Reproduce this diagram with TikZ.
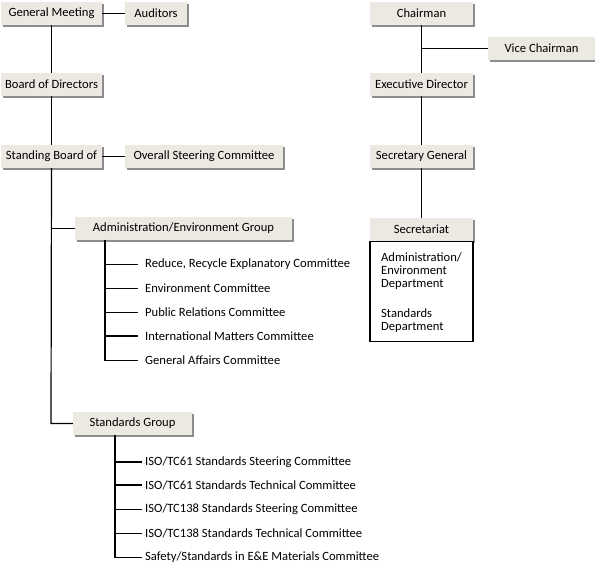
\documentclass[tikz,border=0pt]{standalone}
\usepackage{fontspec}
\setmainfont{Carlito}
\usetikzlibrary{shadows}
\definecolor{boxfill}{RGB}{236,233,226}
\definecolor{shadowgray}{RGB}{140,140,140}
\newcommand{\chartfont}{\fontsize{12.6}{13}\selectfont}
\tikzset{
  box/.style={fill=boxfill, inner sep=0pt, minimum height=23pt, font=\chartfont,
    drop shadow={shadow xshift=2pt, shadow yshift=-2pt, fill=shadowgray, opacity=1}},
  conn/.style={line width=1.2pt, black},
  item/.style={anchor=west, inner sep=0pt, font=\chartfont},
}
\begin{document}
\begin{tikzpicture}[x=1pt,y=-1pt]
\useasboundingbox (0,0) rectangle (595,567);
% left column
\node[box, minimum width=101pt] (gm) at (51.5,13.5) {General Meeting};
\node[box, minimum width=62pt] (aud) at (156,13.5) {Auditors};
\node[box, minimum width=101pt] (bod) at (51.5,84.5) {Board of Directors};
\node[box, minimum width=101pt] (sbo) at (51.5,156.5) {Standing Board of};
\node[box, minimum width=158pt] (osc) at (204,156.5) {Overall Steering Committee};
\node[box, minimum width=217pt] (aeg) at (183.5,228.5) {Administration/Environment Group};
\node[box, minimum width=119pt] (sg) at (132.5,423.5) {Standards Group};
% admin children
\node[item] (a1) at (145,264.5) {Reduce, Recycle Explanatory Committee};
\node[item] (a2) at (145,288.5) {Environment Committee};
\node[item] (a3) at (145,312.5) {Public Relations Committee};
\node[item] (a4) at (145,336) {International Matters Committee};
\node[item] (a5) at (145,360.5) {General Affairs Committee};
% standards children
\node[item] (s1) at (145,462) {ISO/TC61 Standards Steering Committee};
\node[item] (s2) at (145,485) {ISO/TC61 Standards Technical Committee};
\node[item] (s3) at (145,509.5) {ISO/TC138 Standards Steering Committee};
\node[item] (s4) at (145,533.5) {ISO/TC138 Standards Technical Committee};
\node[item] (s5) at (145,557.5) {Safety/Standards in E\&E Materials Committee};
% right column
\node[box, minimum width=103pt] (ch) at (421.5,13.5) {Chairman};
\node[box, minimum width=107pt] (vc) at (541.5,48.5) {Vice Chairman};
\node[box, minimum width=103pt] (ed) at (421.5,84.5) {Executive Director};
\node[box, minimum width=103pt] (sgen) at (421.5,156.5) {Secretary General};
\node[box, minimum width=103pt] (sec) at (421.5,229.5) {Secretariat};
\node[draw=black, line width=1.2pt, fill=white, minimum width=103pt, minimum height=100pt, inner sep=0pt, anchor=north] (secb) at (sec.south) {};
\node[item, anchor=north west, align=left, font=\chartfont] (d1) at (381,253) {Administration/\\Environment\\Department};
\node[item, anchor=north west, align=left, font=\chartfont] (d2) at (381,309) {Standards\\Department};
% connectors left
\draw[conn] (gm.east) -- (aud.west);
\draw[conn] (gm.south) -- (bod.north);
\draw[conn] (bod.south) -- (sbo.north);
\draw[conn] (sbo.east) -- (osc.west);
\coordinate (tr) at (51,423.5);
\draw[conn] (sbo.south) -- (tr) -- (sg.west);
\draw[conn] (51,228.5) -- (aeg.west);
\coordinate (av) at (105,360.5);
\draw[conn] (105,240) -- (av);
\foreach \n in {a1,a2,a3,a4,a5} \draw[conn] (105,0 |- \n.west) -- ([xshift=-7pt]\n.west);
\coordinate (sv) at (115,557.5);
\draw[conn] (115,435) -- (sv);
\foreach \n in {s1,s2,s3,s4,s5} \draw[conn] (115,0 |- \n.west) -- ([xshift=-3pt]\n.west);
% connectors right
\draw[conn] (ch.south) -- (ed.north);
\draw[conn] (421.5,48.5) -- (vc.west);
\draw[conn] (ed.south) -- (sgen.north);
\draw[conn] (sgen.south) -- (sec.north);
\end{tikzpicture}
\end{document}
